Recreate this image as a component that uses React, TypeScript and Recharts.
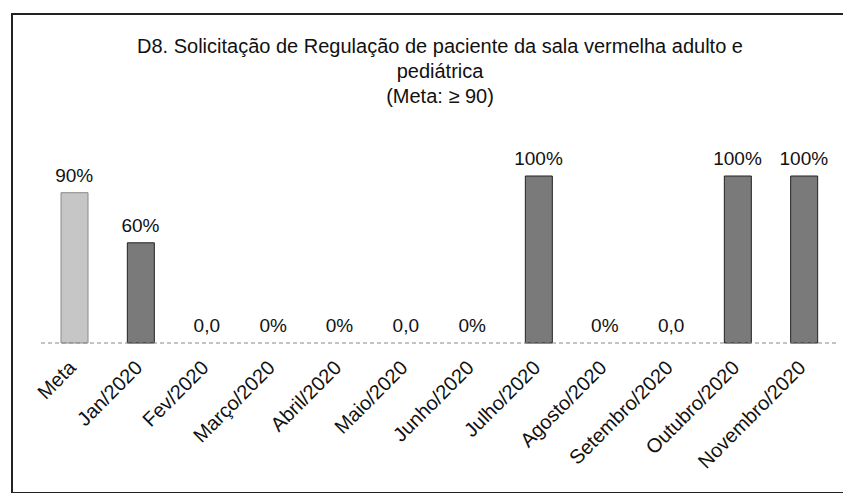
import React from 'react';
import { ComposedChart, Bar, Line, XAxis, YAxis, Cell, LabelList } from 'recharts';

const categories = ['Meta', 'Jan/2020', 'Fev/2020', 'Março/2020', 'Abril/2020', 'Maio/2020', 'Junho/2020', 'Julho/2020', 'Agosto/2020', 'Setembro/2020', 'Outubro/2020', 'Novembro/2020'];
const values = [90, 60, 0, 0, 0, 0, 0, 100, 0, 0, 100, 100];
const valueLabels = ['90%', '60%', '0,0', '0%', '0%', '0,0', '0%', '100%', '0%', '0,0', '100%', '100%'];

const data = categories.map((name, i) => ({ name, value: values[i], label: valueLabels[i] }));

const font = '"Liberation Sans", Arial, sans-serif';

function RotatedTick(props: any) {
  const { x, y, payload } = props;
  return (
    <g transform={`translate(${x + 3},${y + 18})`}>
      <text x={0} y={0} textAnchor="end" transform="rotate(-45)" fontSize={20} fill="#111" fontFamily={font}>
        {payload.value}
      </text>
    </g>
  );
}

// labels are hung on an invisible line so the zero months get theirs too
function TopLabel(props: any) {
  const { x, y, value } = props;
  return (
    <text x={x} y={y - 11} textAnchor="middle" fontSize={19} fill="#111" fontFamily={font}>
      {value}
    </text>
  );
}

export default function App() {
  return (
    <div style={{ position: 'relative', width: 851, height: 501, margin: -8, background: '#fff', overflow: 'hidden' }}>
      <div style={{ position: 'absolute', left: 11, top: 13, width: 860, height: 477, border: '2px solid #222' }} />
      <div style={{ position: 'absolute', left: 0, width: 880, top: 34, textAlign: 'center', fontFamily: font, fontSize: 20, lineHeight: '25px', color: '#111' }}>
        <div>D8. Solicitação de Regulação de paciente da sala vermelha adulto e</div>
        <div>pediátrica</div>
        <div>(Meta: ≥ 90)</div>
      </div>
      <div style={{ position: 'absolute', left: 0, top: 0 }}>
        <ComposedChart width={851} height={501} data={data} margin={{ top: 176, right: 14, left: 41, bottom: 0 }} barCategoryGap={0}>
          <YAxis hide domain={[0, 100]} />
          <XAxis dataKey="name" interval={0} tickLine={false} axisLine={{ stroke: '#888', strokeDasharray: '4 3' }} tick={<RotatedTick />} height={158} />
          <Bar dataKey="value" barSize={27} isAnimationActive={false} stroke="#222" strokeWidth={1}>
            {data.map((d, i) => (
              <Cell key={d.name} fill={i === 0 ? '#c6c6c6' : '#7a7a7a'} stroke={i === 0 ? '#8a8a8a' : '#222'} />
            ))}
          </Bar>
          <Line dataKey="value" stroke="none" dot={false} activeDot={false} legendType="none" isAnimationActive={false}>
            <LabelList dataKey="label" content={<TopLabel />} />
          </Line>
        </ComposedChart>
      </div>
    </div>
  );
}
